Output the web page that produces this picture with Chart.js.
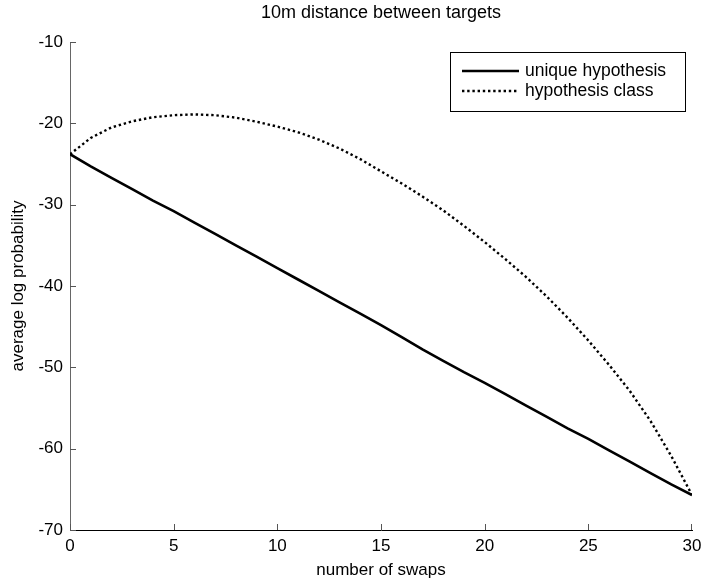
<!DOCTYPE html>
<html>
<head>
<meta charset="utf-8">
<script src="https://cdn.jsdelivr.net/npm/chart.js@4"></script>
<style>
  html, body { margin: 0; padding: 0; background: #fff; }
  #wrap { width: 702px; height: 583px; }
</style>
</head>
<body>
<div id="wrap"><canvas id="chart"></canvas></div>
<script>
const TITLE = '10m distance between targets';
const X_LABEL = 'number of swaps';
const Y_LABEL = 'average log probability';

const swaps = [0, 1, 2, 3, 4, 5, 6, 7, 8, 9, 10, 11, 12, 13, 14, 15, 16, 17, 18, 19, 20, 21, 22, 23, 24, 25, 26, 27, 28, 29, 30];

const uniqueHyp = [-23.8, -25.3, -26.7, -28.1, -29.5, -30.8, -32.2, -33.6, -35.0, -36.4, -37.8,
    -39.2, -40.6, -42.0, -43.4, -44.8, -46.3, -47.8, -49.2, -50.6, -51.9,
    -53.3, -54.7, -56.1, -57.5, -58.8, -60.2, -61.6, -63.0, -64.4, -65.7];

const hypClass = [-23.8, -21.8, -20.5, -19.75, -19.25, -19.0, -18.9, -19.0, -19.3, -19.8, -20.4,
    -21.1, -22.0, -23.1, -24.4, -25.9, -27.4, -29.0, -30.7, -32.6, -34.6,
    -36.7, -38.9, -41.3, -43.9, -46.7, -49.7, -52.9, -56.6, -60.9, -65.7];

const LEGEND_LABELS = ['unique hypothesis', 'hypothesis class'];

const FONT = 'Arial, "Liberation Sans", Helvetica, sans-serif';

// inward tick marks like matlab + title over the plot + boxed legend
const matlabBits = {
    id: 'matlabBits',
    afterDraw(chart) {
        const ctx = chart.ctx;
        const a = chart.chartArea;
        const xs = chart.scales.x, ys = chart.scales.y;
        ctx.save();
        ctx.lineWidth = 1;
        ctx.strokeStyle = '#555';
        xs.ticks.forEach(t => {
            const px = Math.min(Math.round(xs.getPixelForValue(t.value)) + 0.5, a.right - 0.5);
            ctx.beginPath();
            ctx.moveTo(px, a.bottom);
            ctx.lineTo(px, a.bottom - 6);
            ctx.stroke();
        });
        ys.ticks.forEach(t => {
            const py = Math.round(ys.getPixelForValue(t.value)) + 0.5;
            ctx.beginPath();
            ctx.moveTo(a.left, py);
            ctx.lineTo(a.left + 6, py);
            ctx.stroke();
        });

        // title
        ctx.fillStyle = '#000';
        ctx.font = '18px ' + FONT;
        ctx.textAlign = 'center';
        ctx.textBaseline = 'middle';
        ctx.fillText(TITLE, (a.left + a.right) / 2, a.top - 29);

        // legend box
        ctx.font = '17.5px ' + FONT;
        const bw = 235, bh = 59;
        const bx = a.right - 7 - bw, by = a.top + 10;
        ctx.fillStyle = '#fff';
        ctx.fillRect(bx, by, bw, bh);
        ctx.strokeStyle = '#000';
        ctx.strokeRect(bx + 0.5, by + 0.5, bw, bh);
        chart.data.datasets.forEach((ds, i) => {
            const ly = by + 19 + i * 20;
            ctx.save();
            ctx.strokeStyle = ds.borderColor;
            ctx.lineWidth = ds.borderWidth;
            ctx.setLineDash(ds.borderDash || []);
            ctx.beginPath();
            ctx.moveTo(bx + 12, ly);
            ctx.lineTo(bx + 69, ly);
            ctx.stroke();
            ctx.restore();
            ctx.fillStyle = '#000';
            ctx.textAlign = 'left';
            ctx.fillText(LEGEND_LABELS[i], bx + 75, ly);
        });
        ctx.restore();
    }
};

new Chart(document.getElementById('chart'), {
    type: 'line',
    data: {
        labels: swaps,
        datasets: [
            {
                label: LEGEND_LABELS[0],
                data: swaps.map((x, i) => ({ x: x, y: uniqueHyp[i] })),
                borderColor: '#000',
                borderWidth: 2.6,
                pointRadius: 0,
                tension: 0,
                fill: false
            },
            {
                label: LEGEND_LABELS[1],
                data: swaps.map((x, i) => ({ x: x, y: hypClass[i] })),
                borderColor: '#000',
                borderWidth: 2.4,
                borderDash: [2.4, 2.8],
                borderCapStyle: 'butt',
                pointRadius: 0,
                tension: 0,
                fill: false
            }
        ]
    },
    options: {
        responsive: true,
        maintainAspectRatio: false,
        animation: false,
        layout: { padding: { top: 42, right: 10, left: 0, bottom: 0 } },
        plugins: {
            legend: { display: false },
            title: { display: false },
            tooltip: { enabled: false }
        },
        scales: {
            x: {
                type: 'linear',
                min: 0,
                max: 30,
                afterFit: s => { s.height = 53; s.paddingRight = 0; s.paddingLeft = 0; },
                grid: { display: false, drawTicks: false },
                border: { display: true, color: '#000', width: 1 },
                ticks: { stepSize: 5, color: '#000', padding: 6, font: { size: 17, family: FONT } },
                title: { display: true, text: X_LABEL, color: '#000', padding: { top: 0, bottom: 2 }, font: { size: 17, family: FONT } }
            },
            y: {
                min: -70,
                max: -10,
                afterFit: s => { s.width = 70; },
                grid: { display: false, drawTicks: false },
                border: { display: true, color: '#666', width: 1 },
                ticks: { stepSize: 10, color: '#000', padding: 7, font: { size: 17, family: FONT } },
                title: { display: true, text: Y_LABEL, color: '#000', padding: { top: 8, bottom: 0 }, font: { size: 17, family: FONT } }
            }
        }
    },
    plugins: [matlabBits]
});
</script>
</body>
</html>
